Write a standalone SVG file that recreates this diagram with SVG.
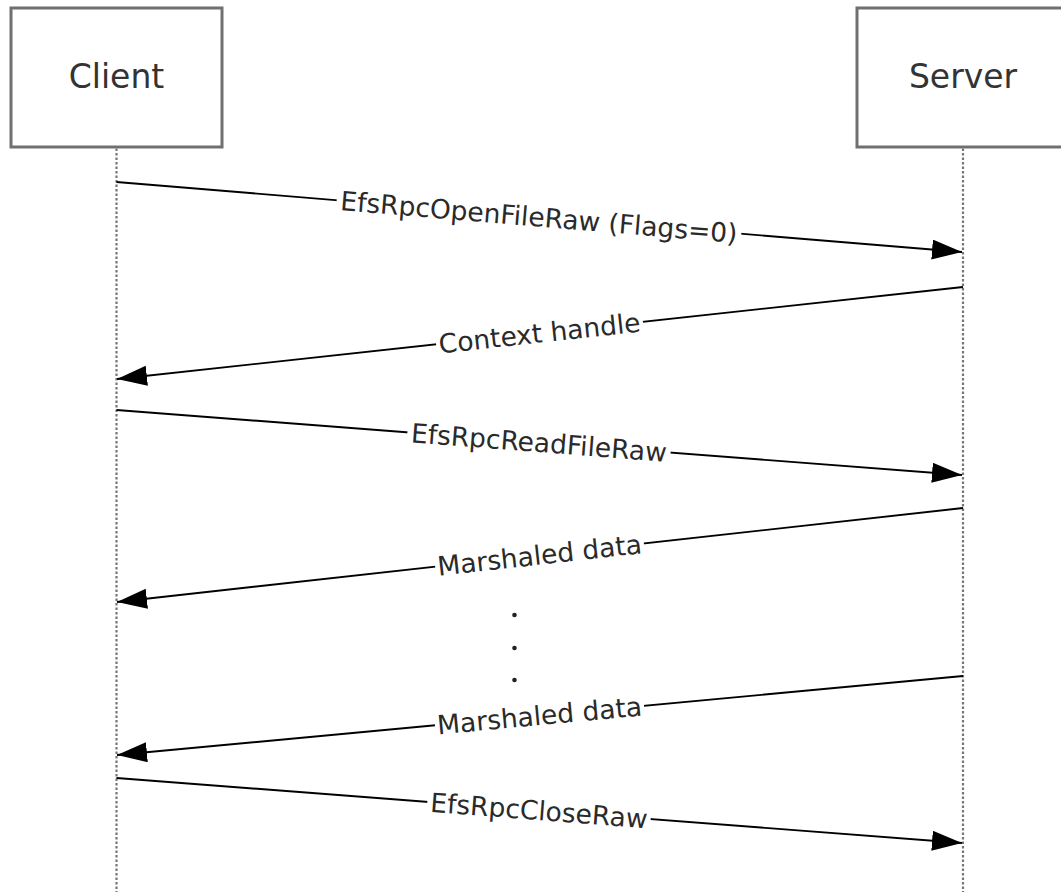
<svg xmlns="http://www.w3.org/2000/svg" width="1061" height="892" viewBox="0 0 1061 892">
<style>
.box{fill:#fff;stroke:#707070;stroke-width:3}
.life{stroke:#777;stroke-width:2.2;stroke-dasharray:2.5 2;fill:none}
.msg{stroke:#000;stroke-width:1.9;fill:none}
.bt{font-family:"DejaVu Sans","Verdana",sans-serif;font-size:33px;fill:#333;text-anchor:middle}
.lt{font-family:"DejaVu Sans","Verdana",sans-serif;font-size:26.5px;fill:#2a2a2a;text-anchor:middle}
.bg{fill:#fff}
</style>
<defs>
<marker id="ah" markerUnits="userSpaceOnUse" markerWidth="32" markerHeight="22" refX="30" refY="10" orient="auto">
<path d="M0,0 L30,10 L0,20 Z" fill="#000"/>
</marker>
</defs>
<g id="client">
<rect class="box" x="11" y="8" width="211" height="139"/>
<text class="bt" x="116.5" y="87.5">Client</text>
</g>
<g id="server">
<rect class="box" x="857" y="8" width="211" height="139"/>
<text class="bt" x="963" y="87.5">Server</text>
</g>
<g id="lifelines">
<line class="life" x1="116.5" y1="148.5" x2="116.5" y2="892"/>
<line class="life" x1="963" y1="148.5" x2="963" y2="892"/>
</g>
<g id="connectors">
<line class="msg" x1="116.5" y1="182" x2="962" y2="252" marker-end="url(#ah)"/>
<line class="msg" x1="963" y1="287" x2="117" y2="379" marker-end="url(#ah)"/>
<line class="msg" x1="116.5" y1="410" x2="962" y2="475" marker-end="url(#ah)"/>
<line class="msg" x1="963" y1="508" x2="117" y2="602" marker-end="url(#ah)"/>
<line class="msg" x1="963" y1="676" x2="117" y2="755" marker-end="url(#ah)"/>
<line class="msg" x1="116.5" y1="778" x2="962" y2="843" marker-end="url(#ah)"/>
</g>
<g id="labels">
<g transform="translate(539,217) rotate(4.73)">
<rect class="bg" x="-203" y="-13" width="406" height="28"/>
<text class="lt" x="0" y="9.5">EfsRpcOpenFileRaw (Flags=0)</text>
</g>
<g transform="translate(539.5,333) rotate(-6.2)">
<rect class="bg" x="-104" y="-13" width="208" height="28"/>
<text class="lt" x="0" y="9.5">Context handle</text>
</g>
<g transform="translate(539,442.5) rotate(4.39)">
<rect class="bg" x="-132" y="-13" width="264" height="28"/>
<text class="lt" x="0" y="9.5">EfsRpcReadFileRaw</text>
</g>
<g transform="translate(539.5,555) rotate(-6.33)">
<rect class="bg" x="-105" y="-13" width="210" height="28"/>
<text class="lt" x="0" y="9.5">Marshaled data</text>
</g>
<g transform="translate(539.5,715.5) rotate(-5.33)">
<rect class="bg" x="-105" y="-13" width="210" height="28"/>
<text class="lt" x="0" y="9.5">Marshaled data</text>
</g>
<g transform="translate(539,810.5) rotate(4.39)">
<rect class="bg" x="-112" y="-13" width="224" height="28"/>
<text class="lt" x="0" y="9.5">EfsRpcCloseRaw</text>
</g>
</g>
<g id="ellipsis" fill="#222">
<circle cx="514.5" cy="615" r="2.3"/>
<circle cx="514.5" cy="648" r="2.3"/>
<circle cx="514.5" cy="680" r="2.3"/>
</g>
</svg>
